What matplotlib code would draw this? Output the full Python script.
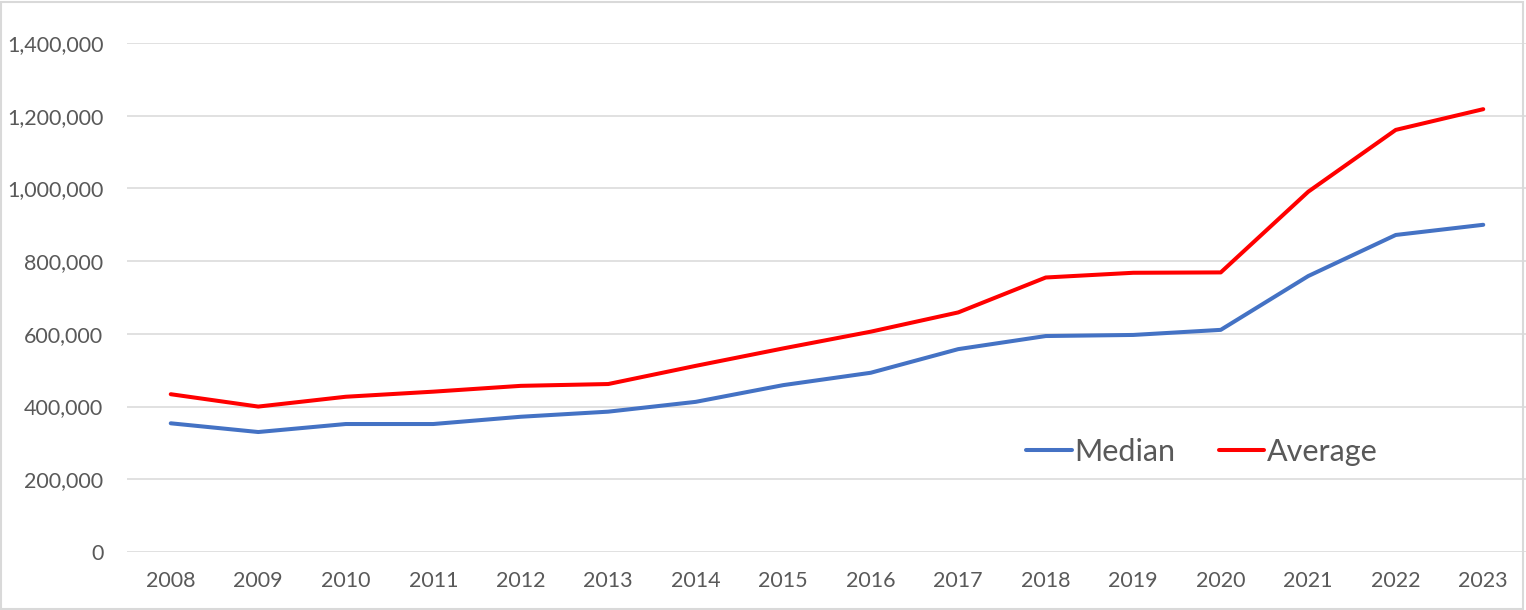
import matplotlib
matplotlib.use('Agg')
import matplotlib.pyplot as plt
from matplotlib.patches import Rectangle
from matplotlib.ticker import FuncFormatter

years = [str(y) for y in range(2008, 2024)]
median = [354000, 330000, 352000, 352000, 372000, 386000, 413000, 459000,
          493000, 558000, 594000, 597000, 611000, 759000, 872000, 900000]
average = [434000, 400000, 427000, 441000, 457000, 462000, 512000, 560000,
           606000, 659000, 755000, 768000, 769000, 991000, 1161000, 1218000]

W, H = 1526, 610
TEXT = '#595959'
GRID = '#D9D9D9'

plt.rcParams['font.family'] = ['Lato', 'DejaVu Sans']

fig = plt.figure(figsize=(W / 100, H / 100), dpi=100)
ax = fig.add_axes([127 / W, (H - 552) / H, 1400 / W, 509 / H])

x = range(len(years))
ax.plot(x, median, color='#4472C4', lw=2.9, solid_capstyle='round', label='Median')
ax.plot(x, average, color='#FF0000', lw=2.9, solid_capstyle='round', label='Average')

ax.set_xlim(-0.5, len(years) - 0.5)
ax.set_ylim(0, 1400000)
ax.set_yticks(range(0, 1400001, 200000))
ax.yaxis.set_major_formatter(FuncFormatter(lambda v, _: f'{int(v):,}'))
ax.set_xticks(list(x))
ax.set_xticklabels(years)
ax.tick_params(length=0, labelsize=15.5, colors=TEXT)
ax.tick_params(axis='y', pad=17)
ax.tick_params(axis='x', pad=14)
ax.grid(axis='y', color=GRID, lw=1.1)
ax.set_axisbelow(True)
for s in ax.spines.values():
    s.set_visible(False)

fig.legend(loc='center', bbox_to_anchor=(1202 / W, 1 - 452 / H), ncol=2,
           frameon=False, fontsize=22, labelcolor=TEXT, handlelength=1.5,
           handletextpad=0.1, columnspacing=1.4)

fig.patches.append(Rectangle((1 / W, 1 / H), 1522 / W, 1 - 3 / H, transform=fig.transFigure,
                             fill=False, edgecolor=GRID, lw=1.5))

fig.savefig('out.png', dpi=100)
